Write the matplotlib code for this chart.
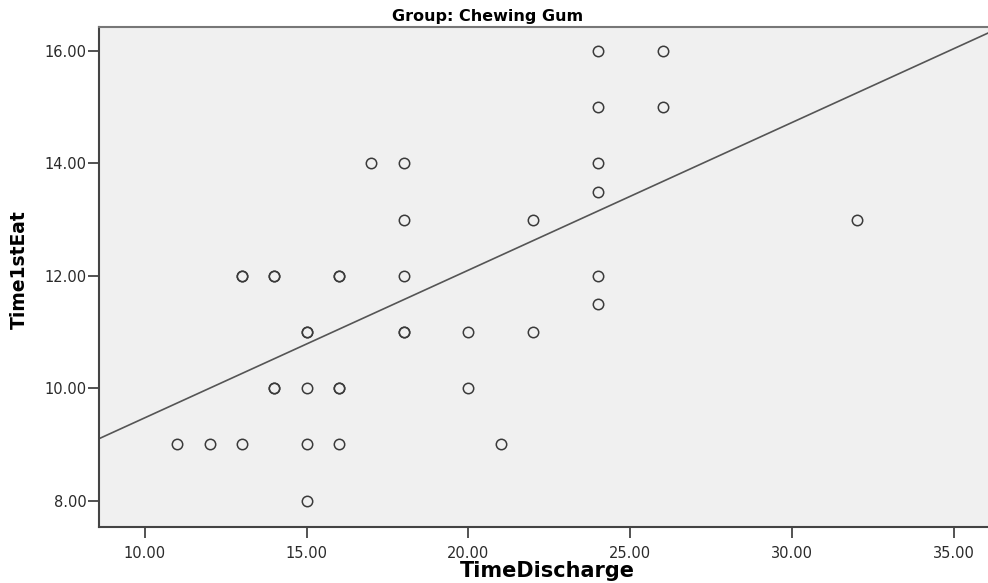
import numpy as np
import matplotlib
matplotlib.use("Agg")
import matplotlib.pyplot as plt

# Data (repeated pairs appear as darker circles)
time_discharge = [24, 26, 24, 26, 17, 18, 24, 24, 18, 22, 32,
                  13, 13, 14, 14, 16, 16, 18, 24, 24,
                  15, 15, 18, 18, 20, 22,
                  14, 14, 15, 16, 16, 20,
                  11, 12, 13, 15, 16, 21, 15]
time_1st_eat = [16, 16, 15, 15, 14, 14, 14, 13.5, 13, 13, 13,
                12, 12, 12, 12, 12, 12, 12, 12, 11.5,
                11, 11, 11, 11, 11, 11,
                10, 10, 10, 10, 10, 10,
                9, 9, 9, 9, 9, 9, 8]

# Fit line
fit_intercept = 6.848
fit_slope = 0.2627

x_ticks = [10, 15, 20, 25, 30, 35]
y_ticks = [8, 10, 12, 14, 16]
x_lim = (8.58, 36.06)
y_lim = (7.53, 16.43)

title = "Group: Chewing Gum"
x_label = "TimeDischarge"
y_label = "Time1stEat"

x = np.array(time_discharge, dtype=float)
y = np.array(time_1st_eat, dtype=float)

fig = plt.figure(figsize=(9.88, 5.83), dpi=100)
ax = fig.add_axes([0.1002, 0.096, 0.8998, 0.8578])
ax.set_facecolor("#f0f0f0")

ax.plot(x, y, linestyle="none", marker="o", markersize=7.5,
        markerfacecolor="none", markeredgecolor="#3a3a3a", markeredgewidth=1.1,
        zorder=3)

xs = np.array(x_lim)
ax.plot(xs, fit_intercept + fit_slope * xs, color="#555555", linewidth=1.2, zorder=2)

ax.set_xlim(*x_lim)
ax.set_ylim(*y_lim)
ax.set_xticks(x_ticks)
ax.set_xticklabels([f"{v:.2f}" for v in x_ticks])
ax.set_yticks(y_ticks)
ax.set_yticklabels([f"{v:.2f}" for v in y_ticks])

for s in ["left", "bottom"]:
    ax.spines[s].set_color("#444444")
    ax.spines[s].set_linewidth(1.5)
ax.spines["top"].set_color("#777777")
ax.spines["top"].set_linewidth(1.5)
ax.spines["right"].set_visible(False)

ax.tick_params(axis="both", direction="out", length=8, width=1.3, color="#444444",
               labelsize=10.5, labelcolor="#2a2a2a")
ax.tick_params(axis="x", pad=6)
ax.tick_params(axis="y", pad=1)

fig.text(0.4935, 0.9645, title, ha="center", va="baseline", fontsize=11.5,
         fontweight="bold", family="DejaVu Sans")
fig.text(0.5545, 0.0095, x_label, ha="center", va="baseline", fontsize=15,
         fontweight="bold", family="DejaVu Sans")
fig.text(0.0195, 0.537, y_label, ha="center", va="center", fontsize=13.5,
         fontweight="bold", rotation=90, family="DejaVu Sans")

fig.savefig("out.png", dpi=100)
